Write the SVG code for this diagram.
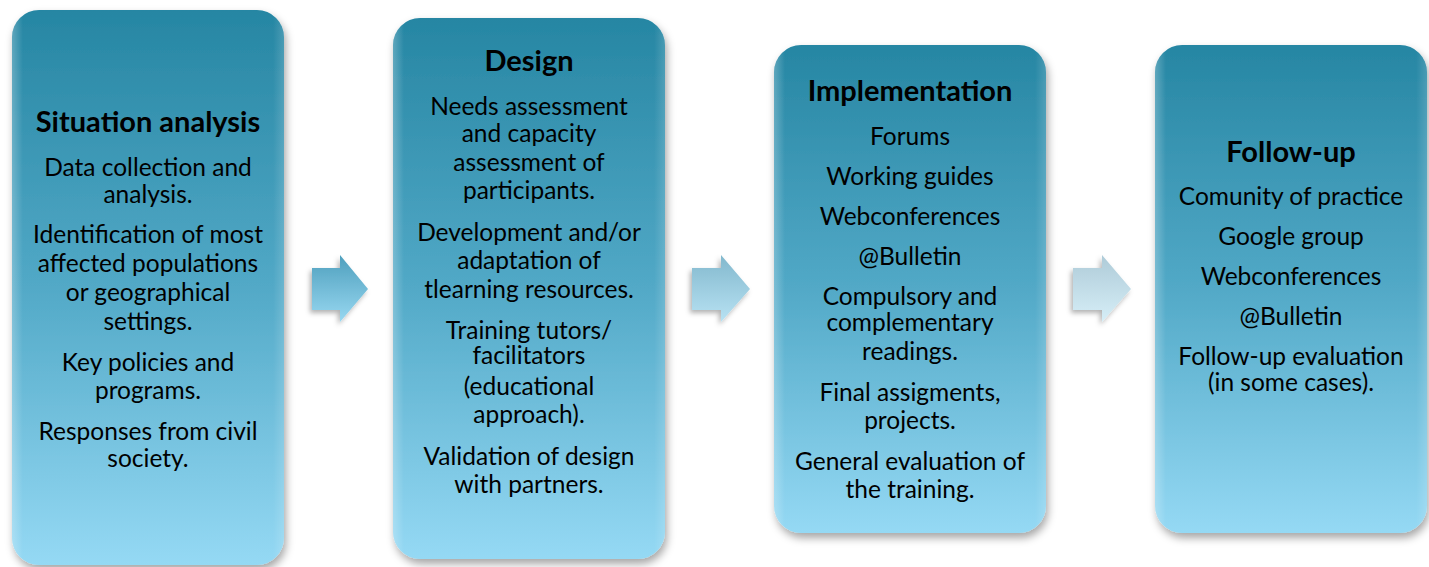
<svg xmlns="http://www.w3.org/2000/svg" width="1429" height="567" viewBox="0 0 1429 567">
<defs>
<linearGradient id="boxg" x1="0" y1="0" x2="0" y2="1">
<stop offset="0" stop-color="#2686a3"/>
<stop offset="0.5" stop-color="#52a9c7"/>
<stop offset="1" stop-color="#95d9f4"/>
</linearGradient>
<linearGradient id="edge" x1="0" y1="0" x2="1" y2="0">
<stop offset="0" stop-color="#ffffff" stop-opacity="0.25"/>
<stop offset="0.04" stop-color="#ffffff" stop-opacity="0"/>
<stop offset="0.96" stop-color="#ffffff" stop-opacity="0"/>
<stop offset="1" stop-color="#ffffff" stop-opacity="0.15"/>
</linearGradient>
<linearGradient id="a1" x1="0" y1="0" x2="0" y2="1">
<stop offset="0" stop-color="#4e9fbd"/>
<stop offset="1" stop-color="#98d8f1"/>
</linearGradient>
<linearGradient id="a2" x1="0" y1="0" x2="0" y2="1">
<stop offset="0" stop-color="#82b8cd"/>
<stop offset="1" stop-color="#b8e2f3"/>
</linearGradient>
<linearGradient id="a3" x1="0" y1="0" x2="0" y2="1">
<stop offset="0" stop-color="#aecbd8"/>
<stop offset="1" stop-color="#d6eef7"/>
</linearGradient>
<filter id="sh" x="-10%" y="-10%" width="125%" height="125%">
<feDropShadow dx="2" dy="5" stdDeviation="4" flood-color="#000" flood-opacity="0.35"/>
</filter>
<filter id="ash" x="-20%" y="-20%" width="150%" height="150%">
<feDropShadow dx="-2" dy="3" stdDeviation="2.5" flood-color="#000" flood-opacity="0.3"/>
</filter>
</defs>
<style>
.box{fill:url(#boxg);filter:url(#sh);}
.edge{fill:url(#edge);}
text{font-family:Lato,"Open Sans","Liberation Sans",sans-serif;fill:#000;text-anchor:middle;}
.t{font-size:29px;font-weight:bold;}
.b{font-size:24.5px;}
</style>
<rect width="1429" height="567" fill="#ffffff"/>
<g id="connectors">
<path d="M312,268 H340 V255 L368,289 L340,322 V310 H312 Z" fill="url(#a1)" filter="url(#ash)"/>
<path d="M692,268 H721 V255 L750,289 L721,322 V310 H692 Z" fill="url(#a2)" filter="url(#ash)"/>
<path d="M1073,268 H1102 V255 L1131,289 L1102,322 V310 H1073 Z" fill="url(#a3)" filter="url(#ash)"/>
</g>
<g id="situation">
<rect class="box" x="12" y="10" width="272" height="555" rx="27"/>
<rect class="edge" x="12" y="10" width="272" height="555" rx="27"/>
<text class="t" x="148" y="132">Situation analysis</text>
<text class="b" x="148" y="176">Data collection and</text>
<text class="b" x="148" y="203">analysis.</text>
<text class="b" x="148" y="243">Identification of most</text>
<text class="b" x="148" y="272">affected  populations</text>
<text class="b" x="148" y="301">or geographical</text>
<text class="b" x="148" y="330">settings.</text>
<text class="b" x="148" y="371">Key policies  and</text>
<text class="b" x="148" y="399">programs.</text>
<text class="b" x="148" y="440">Responses from civil</text>
<text class="b" x="148" y="467">society.</text>
</g>
<g id="design">
<rect class="box" x="393" y="18" width="272" height="541" rx="27"/>
<rect class="edge" x="393" y="18" width="272" height="541" rx="27"/>
<text class="t" x="529" y="71">Design</text>
<text class="b" x="529" y="115">Needs assessment</text>
<text class="b" x="529" y="142">and capacity</text>
<text class="b" x="529" y="171">assessment of</text>
<text class="b" x="529" y="199">participants.</text>
<text class="b" x="529" y="241">Development and/or</text>
<text class="b" x="529" y="269">adaptation of</text>
<text class="b" x="529" y="298">tlearning resources.</text>
<text class="b" x="529" y="339">Training tutors/</text>
<text class="b" x="529" y="364">facilitators</text>
<text class="b" x="529" y="395">(educational</text>
<text class="b" x="529" y="423">approach).</text>
<text class="b" x="529" y="465">Validation of design</text>
<text class="b" x="529" y="493">with partners.</text>
</g>
<g id="implementation">
<rect class="box" x="774" y="45" width="272" height="488" rx="27"/>
<rect class="edge" x="774" y="45" width="272" height="488" rx="27"/>
<text class="t" x="910" y="101">Implementation</text>
<text class="b" x="910" y="145">Forums</text>
<text class="b" x="910" y="185">Working guides</text>
<text class="b" x="910" y="225">Webconferences</text>
<text class="b" x="910" y="265">@Bulletin</text>
<text class="b" x="910" y="305">Compulsory  and</text>
<text class="b" x="910" y="331">complementary</text>
<text class="b" x="910" y="360">readings.</text>
<text class="b" x="910" y="401">Final assigments,</text>
<text class="b" x="910" y="429">projects.</text>
<text class="b" x="910" y="470">General evaluation of</text>
<text class="b" x="910" y="498">the training.</text>
</g>
<g id="followup">
<rect class="box" x="1155" y="45" width="272" height="488" rx="27"/>
<rect class="edge" x="1155" y="45" width="272" height="488" rx="27"/>
<text class="t" x="1291" y="162">Follow-up</text>
<text class="b" x="1291" y="205">Comunity of practice</text>
<text class="b" x="1291" y="245">Google group</text>
<text class="b" x="1291" y="285">Webconferences</text>
<text class="b" x="1291" y="325">@Bulletin</text>
<text class="b" x="1291" y="365">Follow-up evaluation</text>
<text class="b" x="1291" y="391">(in some cases).</text>
</g>
</svg>
